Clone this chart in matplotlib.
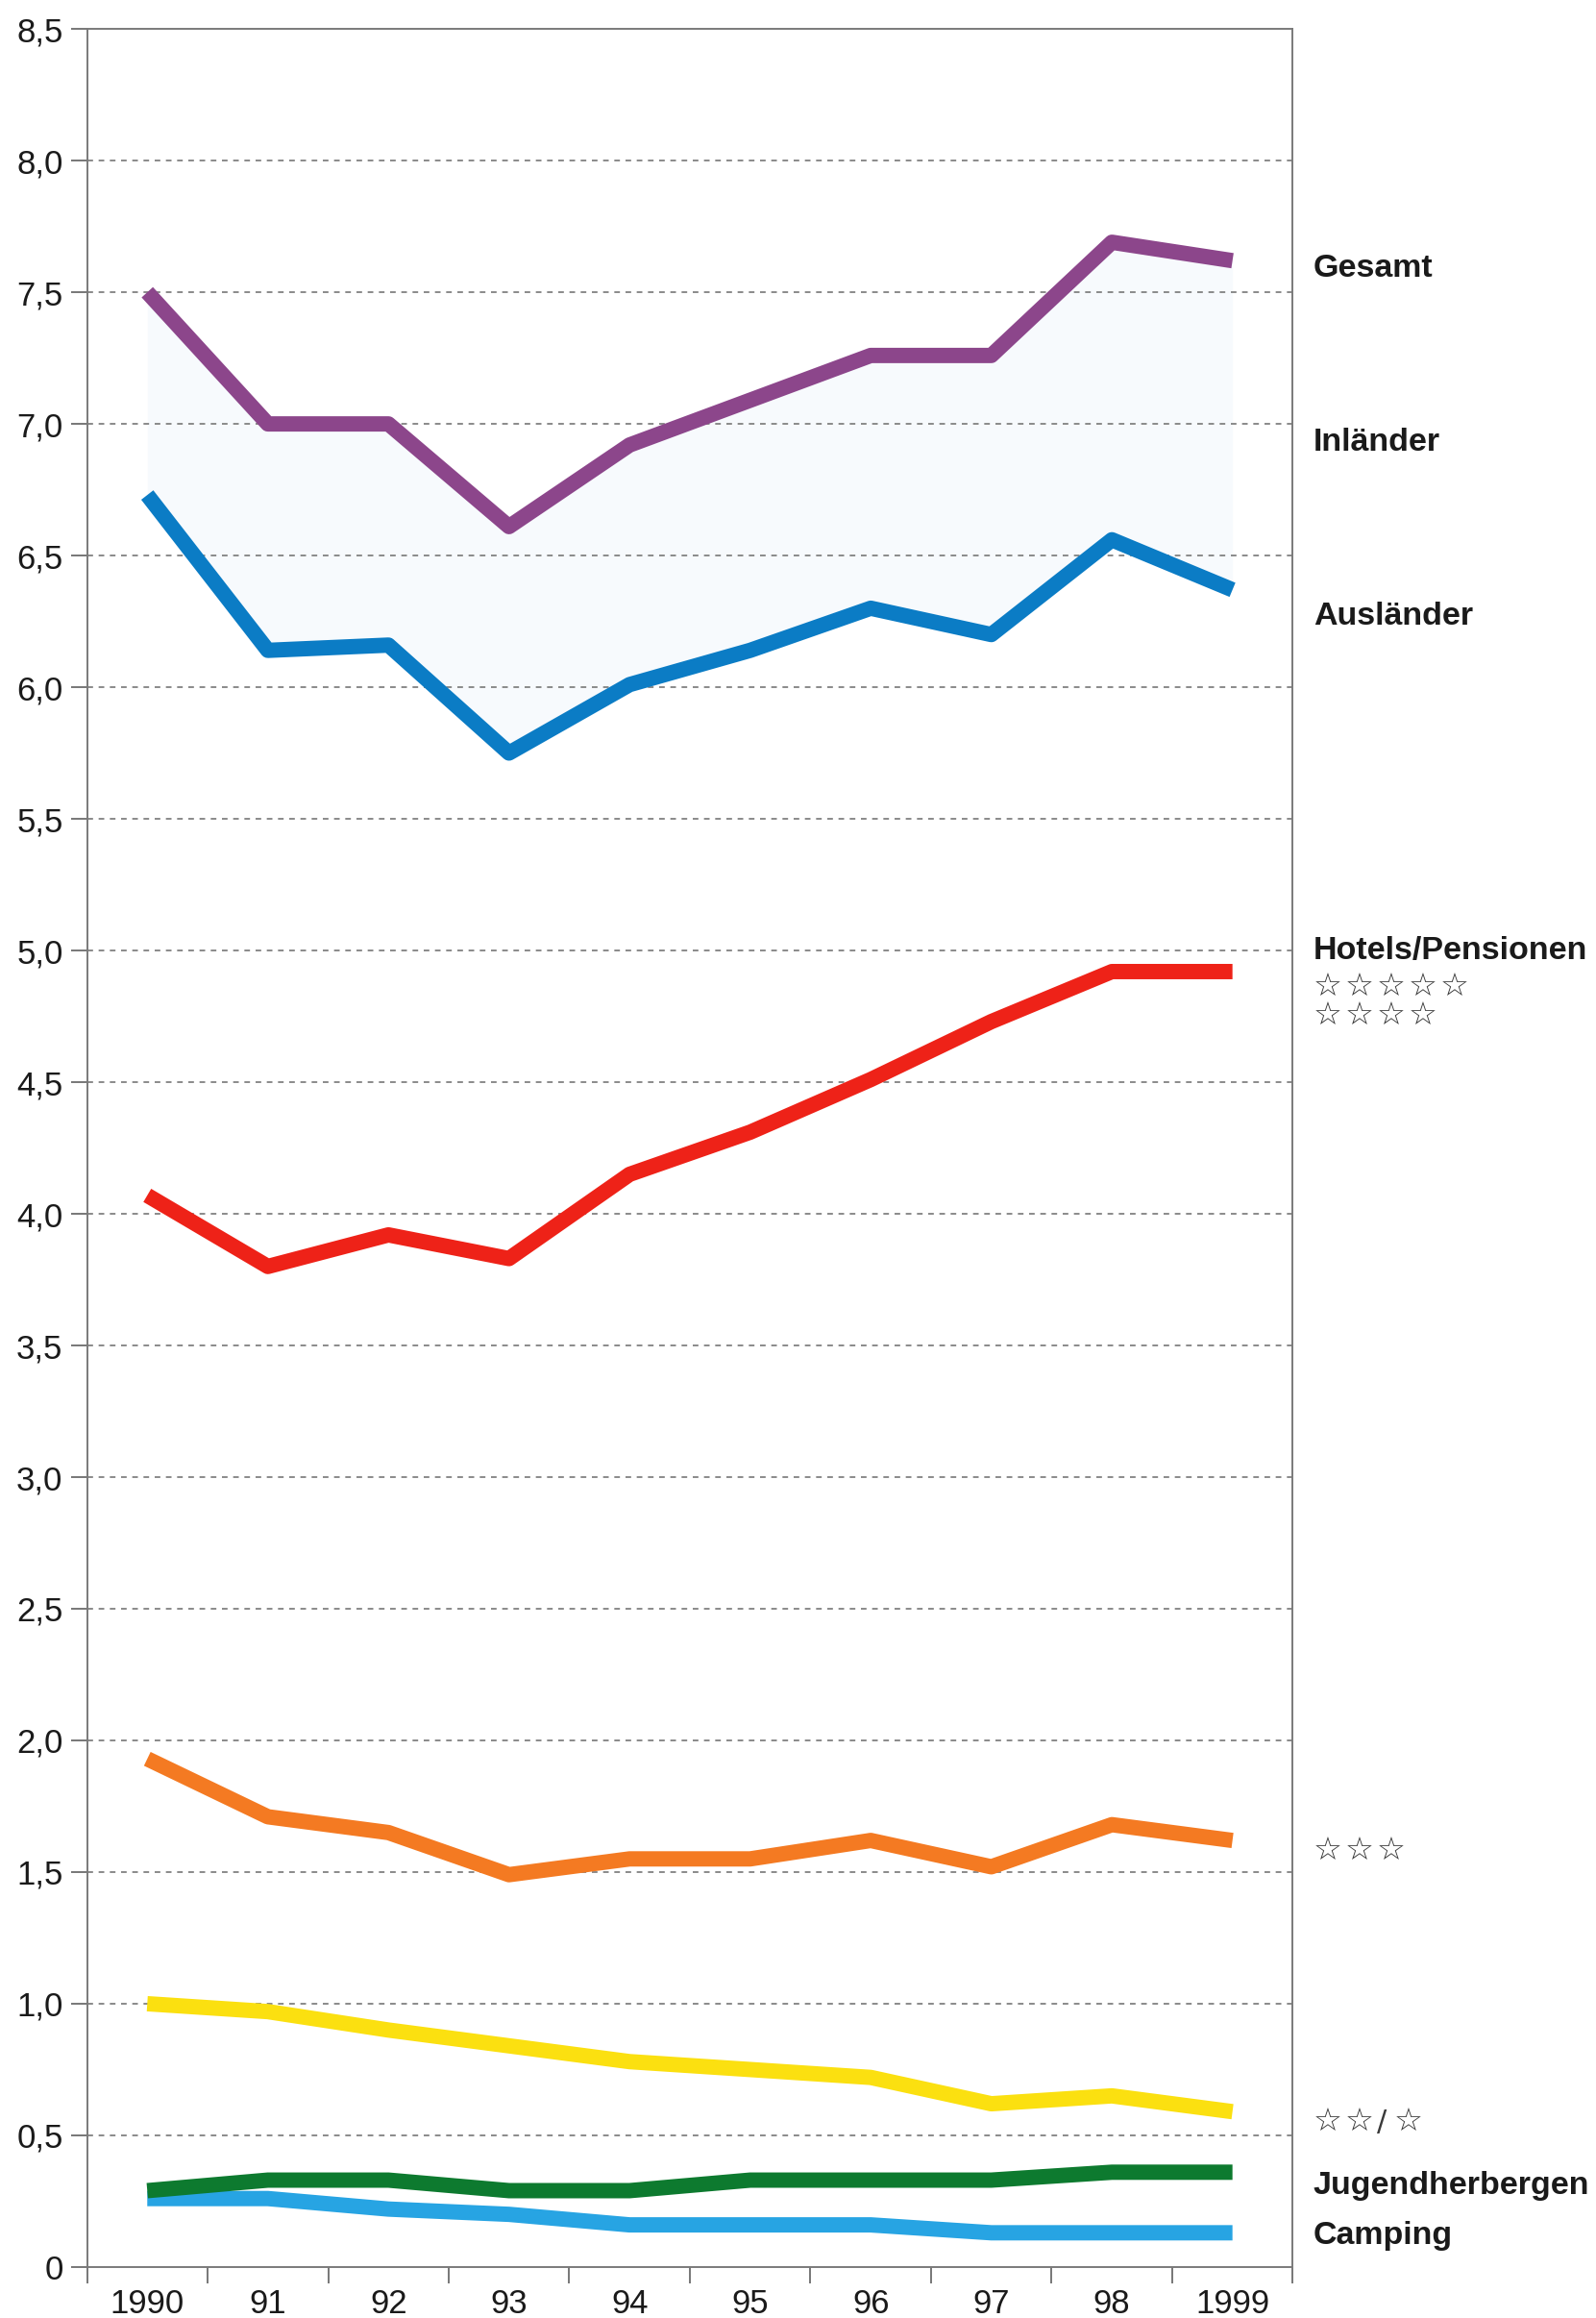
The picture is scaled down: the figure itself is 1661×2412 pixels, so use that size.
import matplotlib
matplotlib.use("Agg")
import matplotlib.pyplot as plt
import numpy as np

years = ["1990", "91", "92", "93", "94", "95", "96", "97", "98", "1999"]
gesamt = [7.50, 7.00, 7.00, 6.61, 6.92, 7.09, 7.26, 7.26, 7.69, 7.62]
auslaender = [6.73, 6.14, 6.16, 5.75, 6.01, 6.14, 6.30, 6.20, 6.56, 6.37]
hotels45 = [4.07, 3.80, 3.92, 3.83, 4.15, 4.31, 4.51, 4.73, 4.92, 4.92]
hotels3 = [1.93, 1.71, 1.65, 1.49, 1.55, 1.55, 1.62, 1.52, 1.68, 1.62]
hotels21 = [1.00, 0.97, 0.90, 0.84, 0.78, 0.75, 0.72, 0.62, 0.65, 0.59]
jugend = [0.29, 0.33, 0.33, 0.29, 0.29, 0.33, 0.33, 0.33, 0.36, 0.36]
camping = [0.26, 0.26, 0.22, 0.20, 0.16, 0.16, 0.16, 0.13, 0.13, 0.13]

yticks = [0, 0.5, 1.0, 1.5, 2.0, 2.5, 3.0, 3.5, 4.0, 4.5, 5.0, 5.5, 6.0, 6.5, 7.0, 7.5, 8.0, 8.5]
ytick_labels = ["0"] + [f"{v:.1f}".replace(".", ",") for v in yticks[1:]]

bold_labels = [
    ("Gesamt", 7.59),
    ("Inländer", 6.93),
    ("Ausländer", 6.27),
    ("Hotels/Pensionen", 5.0),
    ("Jugendherbergen", 0.31),
    ("Camping", 0.12),
]
star_labels = [
    ("☆☆☆☆☆", 4.86),
    ("☆☆☆☆", 4.75),
    ("☆☆☆", 1.58),
    ("☆☆/☆", 0.55),
]

plt.rcParams['font.family'] = ['Liberation Sans', 'DejaVu Sans']

fig = plt.figure(figsize=(16.61, 24.12), dpi=100)
ax = fig.add_axes([0.0545, 0.022, 0.7555, 0.9655])

x = np.arange(len(years))
lw = 11.5

ax.fill_between(x, auslaender, gesamt, color="#f7fafd", zorder=1, linewidth=0)
for yv in yticks[1:-1]:
    ax.axhline(yv, color="#8a8a8a", lw=1.4, ls=(0, (3, 3)), zorder=1.5)

ax.plot(x, gesamt, color="#8c468b", lw=lw, solid_capstyle="butt", zorder=3)
ax.plot(x, auslaender, color="#0b7cc5", lw=lw, solid_capstyle="butt", zorder=3)
ax.plot(x, hotels45, color="#ee2218", lw=lw, solid_capstyle="butt", zorder=3)
ax.plot(x, hotels3, color="#f47a22", lw=lw, solid_capstyle="butt", zorder=3)
ax.plot(x, hotels21, color="#fbe010", lw=lw, solid_capstyle="butt", zorder=3)
ax.plot(x, camping, color="#27a4e3", lw=lw, solid_capstyle="butt", zorder=3)
ax.plot(x, jugend, color="#0d7a2f", lw=lw, solid_capstyle="butt", zorder=3.1)

ax.set_xlim(-0.5, len(years) - 0.5)
ax.set_ylim(0, 8.5)

ax.set_yticks(yticks)
ax.set_yticklabels(ytick_labels, fontsize=25, color="#1a1a1a")
ax.set_xticks(np.arange(-0.5, len(years)), minor=False)
ax.set_xticklabels([])
ax.set_xticks(x, minor=True)
ax.set_xticklabels(years, minor=True, fontsize=25, color="#1a1a1a")
ax.tick_params(axis="x", which="major", length=12, width=1.4, color="#777777", direction="out")
ax.tick_params(axis="x", which="minor", length=0, pad=16)
ax.tick_params(axis="y", length=12, width=1.4, color="#777777", direction="out", pad=6)

for sp in ax.spines.values():
    sp.set_color("#7a7a7a")
    sp.set_linewidth(1.4)

ytr = ax.get_yaxis_transform()
for text, yv in bold_labels:
    ax.text(1.017, yv, text, transform=ytr, fontsize=24.5, fontweight="bold",
            va="center", ha="left", color="#1a1a1a")

star_step = 23.8  # points between star glyphs
for text, yv in star_labels:
    off = 0.0
    for ch in text:
        ax.annotate(ch, xy=(1.017, yv), xycoords=ytr, xytext=(off, 0),
                    textcoords="offset points", ha="left", va="center",
                    fontsize=24 if ch == "☆" else 22, color="#3a3a3a",
                    family=["DejaVu Sans"])
        off += star_step if ch == "☆" else star_step * 0.55

fig.savefig("out.png", dpi=100, facecolor="white")
